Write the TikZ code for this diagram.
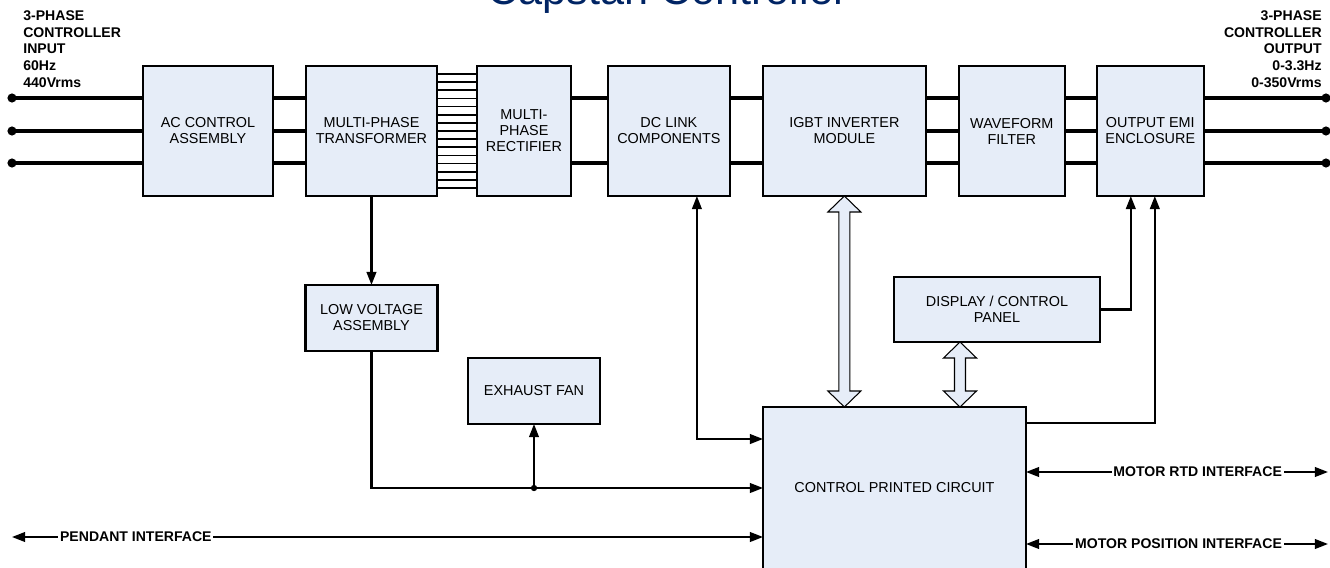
\documentclass[tikz,border=0pt]{standalone}
\usepackage{fontspec}
\setmainfont{Liberation Sans}
\usetikzlibrary{arrows.meta,positioning,calc}

\definecolor{boxfill}{RGB}{230,237,248}
\definecolor{navy}{RGB}{0,36,100}

% hollow double arrow between two points on one vertical
\newcommand\hollowarrow[2]{%
  \draw[hollow] (#1) -- ($(#1)+(16.5,16)$) -- ($(#1)+(5.5,16)$) -- ($(#2)+(5.5,-16)$)
    -- ($(#2)+(16.5,-16)$) -- (#2) -- ($(#2)+(-16.5,-16)$) -- ($(#2)+(-5.5,-16)$)
    -- ($(#1)+(-5.5,16)$) -- ($(#1)+(-16.5,16)$) -- cycle;}

\begin{document}
\begin{tikzpicture}[x=0.02cm, y=-0.02cm,
  box/.style={draw, line width=1.3pt, fill=boxfill, align=center, inner sep=2pt, outer sep=0pt,
    font=\fontsize{8.2}{9.1}\selectfont},
  phase/.style={line width=2.3pt},
  wire/.style={line width=1pt},
  sig/.style={line width=1.2pt, -{Triangle[length=7.5pt,width=5.5pt]}},
  both/.style={line width=1.2pt, {Triangle[length=7.5pt,width=5.5pt]}-{Triangle[length=7.5pt,width=5.5pt]}},
  hollow/.style={draw, line width=0.6pt, fill=boxfill},
  tag/.style={font=\bfseries\fontsize{8}{9.6}\selectfont, inner sep=0pt},
  iface/.style={font=\bfseries\fontsize{8}{9}\selectfont, fill=white, inner sep=1pt}]
  \useasboundingbox (0,0) rectangle (1330,568);

  \node[font=\fontsize{24.6}{28}\selectfont, text=navy, anchor=base] (ttl) at (667.5,4.5) {Capstan Controller};

  % power path
  \node[box, minimum width=2.6cm, minimum height=2.6cm] (ac) at (208,131) {AC CONTROL\\ASSEMBLY};
  \node[box, right=0.66cm of ac, minimum width=2.62cm, minimum height=2.6cm] (trans) {MULTI-PHASE\\TRANSFORMER};
  \node[box, right=0.8cm of trans, minimum width=1.88cm, minimum height=2.6cm] (rect) {MULTI-\\PHASE\\RECTIFIER};
  \node[box, right=0.74cm of rect, minimum width=2.44cm, minimum height=2.6cm] (dc) {DC LINK\\COMPONENTS};
  \node[box, right=0.66cm of dc, minimum width=3.26cm, minimum height=2.6cm] (igbt) {IGBT INVERTER\\MODULE};
  \node[box, right=0.66cm of igbt, minimum width=2.12cm, minimum height=2.6cm] (wf) {WAVEFORM\\FILTER};
  \node[box, right=0.64cm of wf, minimum width=2.14cm, minimum height=2.6cm] (emi) {OUTPUT EMI\\ENCLOSURE};

  % lower blocks
  \node[box, minimum width=2.64cm, minimum height=1.32cm] (lv) at (371.5,318) {LOW VOLTAGE\\ASSEMBLY};
  \node[box, minimum width=2.64cm, minimum height=1.32cm] (fan) at (534,391) {EXHAUST FAN};
  \node[box, minimum width=4.12cm, minimum height=1.3cm] (disp) at (997,309.5) {DISPLAY / CONTROL\\PANEL};
  \node[box, minimum width=5.26cm, minimum height=3.24cm] (cpc) at (894.5,488) {CONTROL PRINTED CIRCUIT};

  \node[tag, anchor=north west, align=left] (inlbl) at (23,10) {3-PHASE\\CONTROLLER\\INPUT\\60Hz\\440Vrms};
  \node[tag, anchor=north east, align=right] (outlbl) at (1322,10) {3-PHASE\\CONTROLLER\\OUTPUT\\0-3.3Hz\\0-350Vrms};

  % three phase lines
  \foreach \y [count=\i] in {98,131,163} {
    \coordinate (in\i) at (12,\y);
    \coordinate (out\i) at (1326,\y);
    \draw[phase] (in\i) -- (in\i -| ac.west);
    \draw[phase] (out\i -| emi.east) -- (out\i);
    \fill (in\i) circle (2.6pt);
    \fill (out\i) circle (2.6pt);
    \foreach \a/\b in {ac/trans, igbt/wf, wf/emi}
      \draw[phase] (\a.east |- 0,\y) -- (\b.west |- 0,\y);
  }
  \foreach \y in {98,163}
    \foreach \a/\b in {rect/dc, dc/igbt}
      \draw[phase] (\a.east |- 0,\y) -- (\b.west |- 0,\y);
  \foreach \i in {0,...,14} {
    \pgfmathsetmacro\yy{74+\i*8.14}
    \draw[wire] (trans.east |- 0,\yy) -- (rect.west |- 0,\yy);
  }

  % signals
  \draw[sig] (trans.south) -- (trans.south |- lv.north);
  \draw[both] ([xshift=0.56cm]dc.south) |- ([yshift=-0.64cm]cpc.north west);
  \draw[sig] (lv.south) |- (cpc.west);
  \coordinate (jn) at (fan.south |- cpc.west);
  \draw[sig] (jn) -- (fan.south);
  \fill (jn) circle (1.8pt);
  \draw[sig] (disp.east) -| ([xshift=-0.39cm]emi.south);
  \draw[sig] ([yshift=-0.32cm]cpc.north east) -| ([xshift=0.09cm]emi.south);

  \coordinate (a1) at (cpc.north -| igbt.south);
  \hollowarrow{igbt.south}{a1}
  \coordinate (d1) at ([xshift=-0.74cm]disp.south);
  \coordinate (d2) at (cpc.north -| d1);
  \hollowarrow{d1}{d2}

  % interfaces
  \coordinate (pend) at (12,537);
  \draw[both] (pend) -- (pend -| cpc.west);
  \node[iface, anchor=west] (pendlbl) at (58,537) {PENDANT INTERFACE};
  \coordinate (rtd) at (1328,472);
  \draw[both] (rtd -| cpc.east) -- (rtd);
  \node[iface, anchor=east] (rtdlbl) at (1284,472) {MOTOR RTD INTERFACE};
  \coordinate (pos) at (1328,544);
  \draw[both] (pos -| cpc.east) -- (pos);
  \node[iface, anchor=east] (poslbl) at (1284,544) {MOTOR POSITION INTERFACE};
\end{tikzpicture}
\end{document}
